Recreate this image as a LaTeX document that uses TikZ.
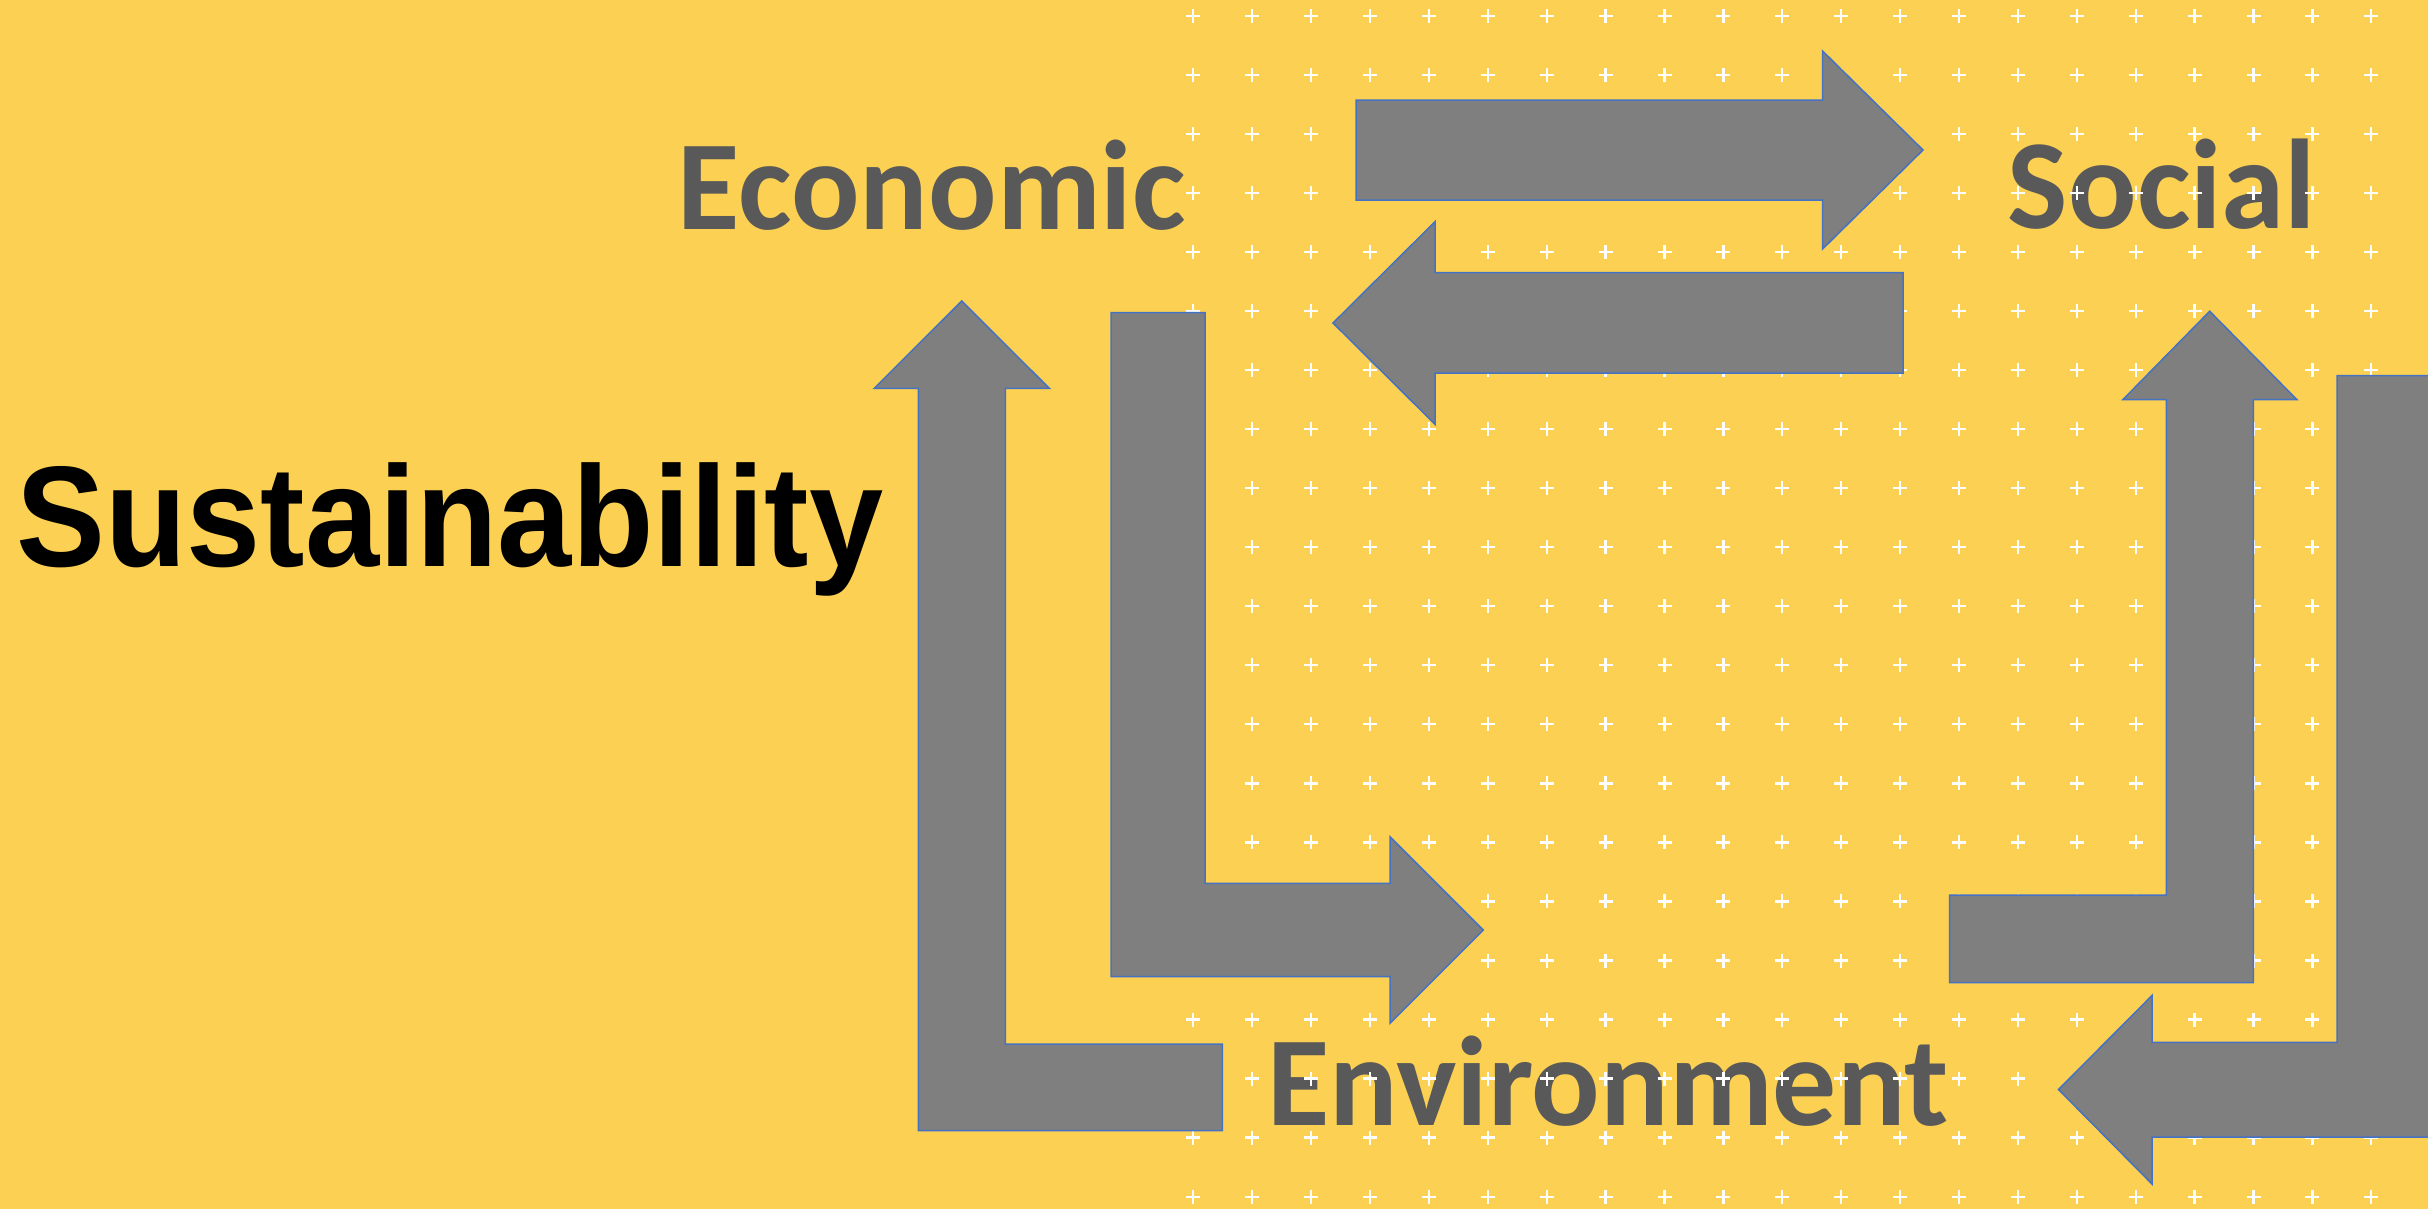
\documentclass[tikz,border=0pt]{standalone}
\usepackage{fontspec}
\usepackage{graphicx}
\newfontfamily\labelfont{Carlito}
\newfontfamily\sustfont{Liberation Sans}
\definecolor{bgyellow}{RGB}{252,208,82}
\definecolor{arrowgray}{RGB}{127,127,127}
\definecolor{edgeblue}{RGB}{68,114,196}
\definecolor{textgray}{RGB}{89,89,89}
\begin{document}
\begin{tikzpicture}[x=0.3pt,y=-0.3pt,
  blockarrow/.style={fill=arrowgray, draw=edgeblue, line width=0.45pt, line join=miter},
  catlabel/.style={font=\labelfont\bfseries\fontsize{38.3}{40}\selectfont, text=textgray, inner sep=0pt, anchor=base},
  plusmark/.style={draw=white, line width=0.7pt}]
\fill[bgyellow] (0,0) rectangle (2428,1209);
\useasboundingbox (0,0) rectangle (2428,1209);
\clip (0,0) rectangle (2428,1209);

% labels
\node[catlabel] (econ) at (931.7,229) {Economic};
\node[catlabel] (social) at (2162,228.3) {Social};
\node[catlabel] (env) at (1608,1125) {Environment};
\node[inner sep=0pt, anchor=base, text=black,
      font=\sustfont\bfseries\fontsize{43}{45}\selectfont] (sust) at (449.8,566.7)
      {\scalebox{0.93}[1]{Sustainability}};

% plus pattern
\foreach \i in {0,...,20}{
  \foreach \j in {0,...,20}{
    \path[plusmark] ({1193.3+58.9*\i-7},{15.7+59.05*\j}) -- ++(14,0)
                    ({1193.3+58.9*\i},{15.7+59.05*\j-7}) -- ++(0,14);
  }
}

% arrow Economic -> Social
\draw[blockarrow] (1356,100) -- (1822.6,100) -- (1822.6,51) -- (1923,150)
  -- (1822.6,249) -- (1822.6,200) -- (1356,200) -- cycle;
% arrow Social -> Economic
\draw[blockarrow] (1903,272.7) -- (1435,272.7) -- (1435,221.7) -- (1333,323)
  -- (1435,424.3) -- (1435,373.2) -- (1903,373.2) -- cycle;
% arrow Environment -> Economic (bent up)
\draw[blockarrow] (918.3,388.3) -- (874.3,388.3) -- (961.7,301) -- (1049.3,388.3)
  -- (1005.3,388.3) -- (1005.3,1044) -- (1222.3,1044) -- (1222.3,1130.7)
  -- (918.3,1130.7) -- cycle;
% arrow Economic -> Environment (down then right)
\draw[blockarrow] (1111,312.7) -- (1205,312.7) -- (1205,883.3) -- (1390,883.3)
  -- (1390,836.7) -- (1483.3,930) -- (1390,1023.3) -- (1390,976.7)
  -- (1111,976.7) -- cycle;
% arrow Environment -> Social (right then up)
\draw[blockarrow] (1949.6,895) -- (2166.4,895) -- (2166.4,399.5) -- (2123,399.5)
  -- (2209.7,311.2) -- (2296.7,399.5) -- (2253.3,399.5) -- (2253.3,982.5)
  -- (1949.6,982.5) -- cycle;
% arrow Social -> Environment (down then left)
\draw[blockarrow] (2337,375.5) -- (2432,375.5) -- (2432,1137) -- (2152,1137)
  -- (2152,1184) -- (2058.5,1089.5) -- (2152,995.5) -- (2152,1042.4)
  -- (2337,1042.4) -- cycle;
\end{tikzpicture}
\end{document}
